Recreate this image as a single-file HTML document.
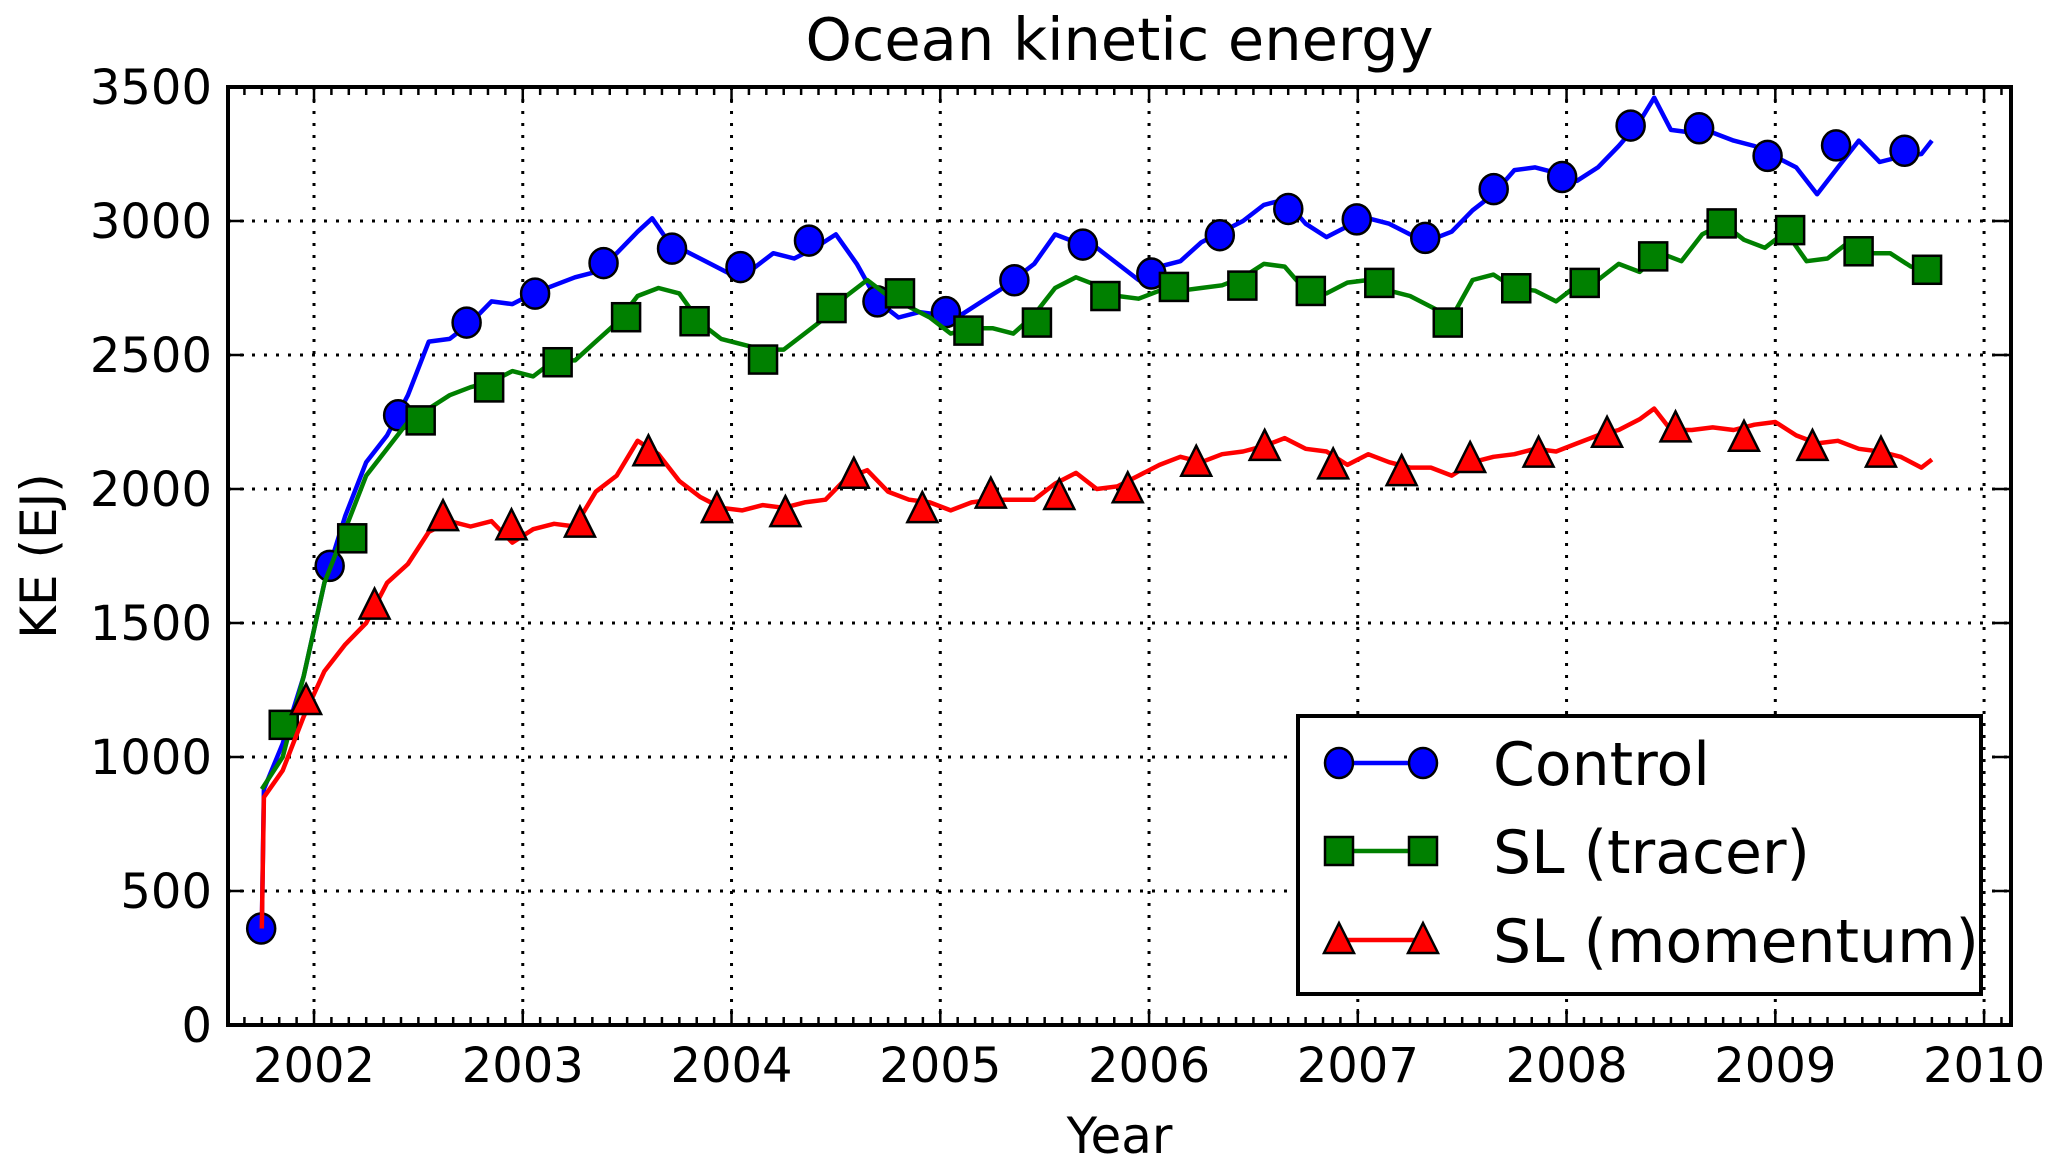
<!DOCTYPE html>
<html><head><meta charset="utf-8"><style>
body{margin:0;background:#fff}
svg{display:block;font-family:"DejaVu Sans","Liberation Sans",sans-serif}
</style></head><body>
<svg id="chart" width="2067" height="1172" viewBox="0 0 2067 1172"></svg>
<script>
const blueYears=[2001.75,2001.76,2001.85,2001.95,2002.05,2002.15,2002.25,2002.35,2002.45,2002.55,2002.65,2002.75,2002.85,2002.95,2003.05,2003.15,2003.25,2003.35,2003.45,2003.55,2003.62,2003.7,2003.8,2003.9,2004.0,2004.1,2004.2,2004.3,2004.4,2004.5,2004.6,2004.7,2004.8,2004.9,2005.0,2005.1,2005.2,2005.3,2005.45,2005.55,2005.65,2005.75,2005.85,2005.95,2006.05,2006.15,2006.25,2006.35,2006.45,2006.55,2006.65,2006.75,2006.85,2006.95,2007.05,2007.15,2007.25,2007.35,2007.45,2007.55,2007.65,2007.75,2007.85,2007.95,2008.05,2008.15,2008.25,2008.35,2008.42,2008.5,2008.6,2008.7,2008.8,2008.9,2009.0,2009.1,2009.2,2009.3,2009.4,2009.5,2009.6,2009.7,2009.75];
const blueValues=[360,880,1050,1300,1650,1900,2100,2200,2350,2550,2560,2620,2700,2690,2730,2760,2790,2810,2880,2960,3010,2920,2880,2840,2800,2820,2880,2860,2900,2950,2840,2700,2640,2660,2650,2650,2700,2750,2840,2950,2920,2900,2840,2780,2830,2850,2920,2960,3000,3060,3080,2990,2940,2980,3010,2990,2950,2930,2960,3040,3100,3190,3200,3180,3150,3200,3280,3370,3460,3340,3330,3330,3300,3280,3240,3200,3100,3200,3300,3220,3240,3250,3300];
const greenYears=[2001.75,2001.85,2001.95,2002.05,2002.15,2002.25,2002.35,2002.45,2002.55,2002.65,2002.75,2002.85,2002.95,2003.05,2003.15,2003.25,2003.35,2003.45,2003.55,2003.65,2003.75,2003.85,2003.95,2004.05,2004.15,2004.25,2004.35,2004.45,2004.55,2004.65,2004.75,2004.85,2004.95,2005.05,2005.15,2005.25,2005.35,2005.45,2005.55,2005.65,2005.75,2005.85,2005.95,2006.05,2006.15,2006.25,2006.35,2006.45,2006.55,2006.65,2006.75,2006.85,2006.95,2007.05,2007.15,2007.25,2007.35,2007.45,2007.55,2007.65,2007.75,2007.85,2007.95,2008.05,2008.15,2008.25,2008.35,2008.45,2008.55,2008.65,2008.75,2008.85,2008.95,2009.05,2009.15,2009.25,2009.35,2009.45,2009.55,2009.65,2009.75];
const greenValues=[880,1000,1300,1650,1850,2050,2150,2250,2300,2350,2380,2400,2440,2420,2480,2480,2550,2620,2720,2750,2730,2620,2560,2540,2520,2520,2580,2640,2720,2780,2720,2680,2640,2580,2600,2600,2580,2650,2750,2790,2760,2720,2710,2740,2740,2750,2760,2790,2840,2830,2740,2730,2770,2780,2740,2720,2680,2640,2780,2800,2750,2740,2700,2760,2780,2840,2810,2880,2850,2950,2990,2930,2900,2960,2850,2860,2920,2880,2880,2830,2810];
const redYears=[2001.75,2001.76,2001.85,2001.95,2002.05,2002.15,2002.25,2002.35,2002.45,2002.55,2002.65,2002.75,2002.85,2002.95,2003.05,2003.15,2003.25,2003.35,2003.45,2003.55,2003.65,2003.75,2003.85,2003.95,2004.05,2004.15,2004.25,2004.35,2004.45,2004.55,2004.65,2004.75,2004.85,2004.95,2005.05,2005.15,2005.25,2005.35,2005.45,2005.55,2005.65,2005.75,2005.85,2005.95,2006.05,2006.15,2006.25,2006.35,2006.45,2006.55,2006.65,2006.75,2006.85,2006.95,2007.05,2007.15,2007.25,2007.35,2007.45,2007.55,2007.65,2007.75,2007.85,2007.95,2008.05,2008.15,2008.25,2008.35,2008.42,2008.5,2008.6,2008.7,2008.8,2008.9,2009.0,2009.1,2009.2,2009.3,2009.4,2009.5,2009.6,2009.7,2009.75];
const redValues=[360,850,950,1150,1320,1420,1500,1650,1720,1840,1880,1860,1880,1800,1850,1870,1860,1990,2050,2180,2130,2030,1970,1930,1920,1940,1930,1950,1960,2040,2070,1990,1960,1950,1920,1950,1960,1960,1960,2020,2060,2000,2010,2050,2090,2120,2100,2130,2140,2160,2190,2150,2140,2090,2130,2100,2080,2080,2050,2100,2120,2130,2150,2140,2170,2200,2220,2260,2300,2220,2220,2230,2220,2240,2250,2200,2170,2180,2150,2140,2120,2080,2110];
const blueMarkerValues=[360,1713,2275,2621,2729,2843,2897,2828,2927,2700,2660,2779,2912,2804,2947,3045,3006,2937,3119,3164,3356,3346,3243,3282,3262];
const greenMarkerValues=[1120,1816,2256,2379,2473,2641,2626,2483,2675,2730,2591,2621,2720,2754,2759,2739,2769,2621,2749,2769,2868,2991,2966,2887,2818];
const redMarkerValues=[1209,1565,1895,1861,1871,2137,1925,1910,2053,1925,1979,1974,1999,2098,2157,2088,2063,2112,2132,2206,2226,2191,2157,2132];
const markerStart=[2001.747,2001.855,2001.962];
const markerStep=0.328;
const yTicks=[0,500,1000,1500,2000,2500,3000,3500];
const xTicks=[2002,2003,2004,2005,2006,2007,2008,2009,2010];

const NS='http://www.w3.org/2000/svg';
const svg=document.getElementById('chart');
const L=228,R=2011,T=87,B=1025,X0=2001.588,X1=2010.129,Y0=0,Y1=3500;
const sx=v=>L+(v-X0)/(X1-X0)*(R-L);
const sy=v=>B-(v-Y0)/(Y1-Y0)*(B-T);
function mk(tag,attrs,parent){const e=document.createElementNS(NS,tag);for(const k in attrs)e.setAttribute(k,attrs[k]);(parent||svg).appendChild(e);return e;}

const grid=mk('g',{});


xTicks.forEach(t=>{mk('line',{x1:sx(t),x2:sx(t),y1:T,y2:B,stroke:'#000','stroke-width':3,'stroke-dasharray':'3,9'},grid);});
yTicks.forEach(t=>{mk('line',{x1:L,x2:R,y1:sy(t),y2:sy(t),stroke:'#000','stroke-width':3,'stroke-dasharray':'3,9'},grid);});

function series(name,color,years,vals,mvals,start,shape){
  const g=mk('g',{});
  
  
  const pts=years.map((y,i)=>sx(y).toFixed(1)+','+sy(vals[i]).toFixed(1)).join(' ');
  const pl=mk('polyline',{points:pts,fill:'none',stroke:color,'stroke-width':4.5,'stroke-linejoin':'round'},g);
  
  
  mvals.forEach((v,i)=>{
    const x=sx(start+i*markerStep),y=sy(v);
    const m=drawMarker(shape,x,y,color,g);
    
    
  });
}
function drawMarker(shape,x,y,color,g){
  if(shape==='circle')return mk('ellipse',{cx:x,cy:y,rx:14,ry:15,fill:color,stroke:'#000','stroke-width':2.5},g);
  if(shape==='square')return mk('rect',{x:x-14,y:y-14,width:28,height:28,fill:color,stroke:'#000','stroke-width':2.5},g);
  return mk('polygon',{points:`${x},${y-17} ${x+15},${y+13} ${x-15},${y+13}`,fill:color,stroke:'#000','stroke-width':2.5},g);
}
series('control','#0000ff',blueYears,blueValues,blueMarkerValues,markerStart[0],'circle');
series('sl-tracer','#008000',greenYears,greenValues,greenMarkerValues,markerStart[1],'square');
series('sl-momentum','#ff0000',redYears,redValues,redMarkerValues,markerStart[2],'triangle');

const ticks=mk('g',{stroke:'#000'});


for(let m=Math.ceil(X0*12);m<=Math.floor(X1*12);m++){
  const x=sx(m/12),major=(m%12===0),len=major?16:8;
  mk('line',{x1:x,x2:x,y1:B,y2:B-len,'stroke-width':2.5},ticks);
  mk('line',{x1:x,x2:x,y1:T,y2:T+len,'stroke-width':2.5},ticks);
}
yTicks.forEach(t=>{
  mk('line',{x1:L,x2:L+16,y1:sy(t),y2:sy(t),'stroke-width':2.5},ticks);
  mk('line',{x1:R,x2:R-16,y1:sy(t),y2:sy(t),'stroke-width':2.5},ticks);
  const tx=mk('text',{x:212,y:sy(t)+17,'text-anchor':'end','font-size':48,fill:'#000',stroke:'none'});
  tx.textContent=t;
  
  
});
xTicks.forEach(t=>{
  const tx=mk('text',{x:sx(t),y:1082,'text-anchor':'middle','font-size':48,fill:'#000'});
  tx.textContent=t;
  
  
});
const frame=mk('rect',{x:L,y:T,width:R-L,height:B-T,fill:'none',stroke:'#000','stroke-width':4});



const title=mk('text',{x:(L+R)/2,y:60,'text-anchor':'middle','font-size':59,fill:'#000'});
title.textContent='Ocean kinetic energy';


const xl=mk('text',{x:(L+R)/2,y:1153,'text-anchor':'middle','font-size':50,fill:'#000'});
xl.textContent='Year';


const yl=mk('text',{x:0,y:0,'text-anchor':'middle','font-size':50,fill:'#000',transform:'translate(56,556) rotate(-90)'});
yl.textContent='KE (EJ)';



const lg=mk('g',{});


mk('rect',{x:1298,y:716,width:683,height:278,fill:'#fff',stroke:'#000','stroke-width':4},lg);
const entries=[['Control','#0000ff','circle',763],['SL (tracer)','#008000','square',851],['SL (momentum)','#ff0000','triangle',940]];
entries.forEach(e=>{
  const eg=mk('g',{},lg);
  
  
  mk('line',{x1:1339,x2:1423,y1:e[3],y2:e[3],stroke:e[1],'stroke-width':4.5},eg);
  drawMarker(e[2],1339,e[3],e[1],eg);
  drawMarker(e[2],1423,e[3],e[1],eg);
  const t=mk('text',{x:1493,y:e[3]+22,'font-size':60,fill:'#000'},eg);
  t.textContent=e[0];
});
</script>
</body></html>
